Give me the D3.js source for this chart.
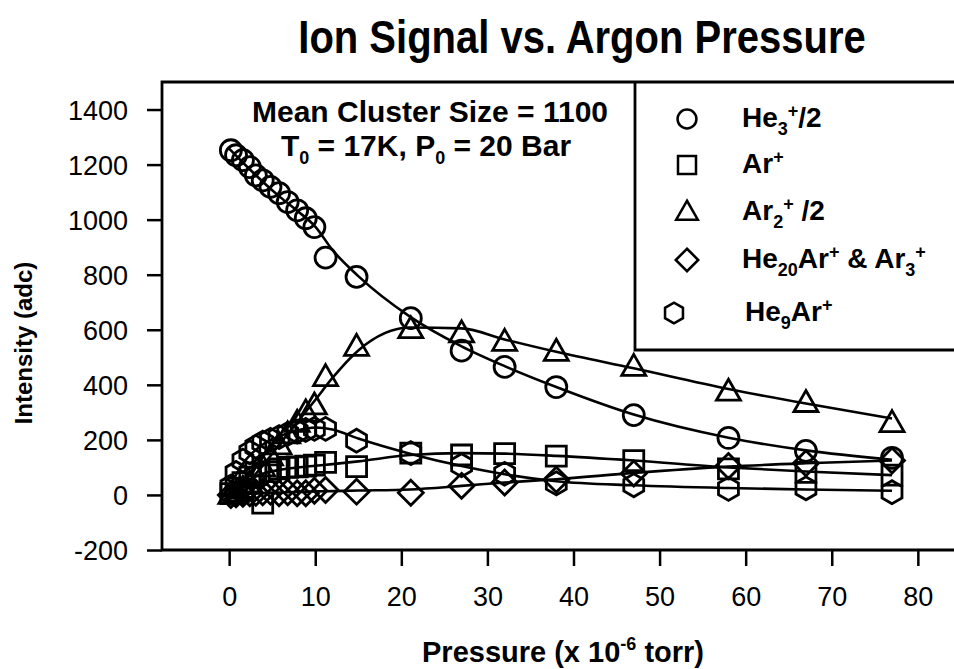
<!DOCTYPE html>
<html>
<head>
<meta charset="utf-8">
<script src="https://cdn.jsdelivr.net/npm/d3@7"></script>
<style>
  body { margin: 0; background: #fff; }
  svg { display: block; }
  text { font-family: "Liberation Sans", Arial, Helvetica, sans-serif; fill: #000; }
</style>
</head>
<body>
<svg id="chart" width="954" height="669"></svg>
<script>
// measured points (pressure in 1e-6 torr, intensity in adc)
const pressure = [0.2, 0.8, 1.6, 2.4, 3.1, 3.9, 4.8, 5.8, 6.8, 7.9, 8.9, 9.9, 11.2, 14.8, 21.1, 27, 32, 38, 47, 58, 67, 77];
const he3 = [1252, 1234, 1216, 1191, 1161, 1143, 1119, 1096, 1064, 1034, 1005, 973, 862, 792, 642, 524, 465, 392, 290, 207, 160, 135];
const arPlus = [5, 25, 45, 65, 80, -30, 85, 95, 100, 102, 105, 108, 118, 103, 152, 145, 150, 141, 125, 95, 82, 72];
const ar2 = [0, 8, 22, 42, 68, 100, 140, 180, 220, 262, 300, 325, 428, 538, 602, 587, 556, 520, 465, 375, 334, 261];
const he20Ar = [0, 2, 4, 6, 8, 10, 12, 6, 10, 6, 6, 15, 18, 12, 8, 33, 45, 55, 78, 105, 115, 125];
const he9Ar = [30, 80, 125, 155, 175, 190, 200, 210, 222, 230, 236, 240, 240, 197, 152, 108, 77, 42, 35, 22, 24, 10];

// fitted curves drawn through the points
const fitPressure = [0, 2, 4, 6, 8, 10, 12, 15, 21, 27, 32, 38, 47, 58, 67, 77];
const fitHe3 = [1258, 1195, 1135, 1080, 1030, 975, 890, 795, 648, 540, 468, 392, 292, 208, 162, 128];
const fitArPlus = [0, 50, 78, 92, 100, 106, 112, 122, 145, 152, 150, 142, 125, 100, 85, 72];
const fitAr2 = [0, 40, 110, 190, 268, 345, 425, 525, 608, 605, 565, 520, 460, 385, 332, 278];
const fitHe20Ar = [0, 4, 7, 9, 11, 13, 14, 16, 20, 33, 45, 57, 80, 103, 115, 125];
const fitHe9Ar = [30, 130, 185, 215, 235, 245, 238, 205, 150, 105, 75, 50, 35, 25, 20, 15];

const xTicks = [0, 10, 20, 30, 40, 50, 60, 70, 80];
const yTicks = [-200, 0, 200, 400, 600, 800, 1000, 1200, 1400];

const svg = d3.select("#chart");

const x = d3.scaleLinear().domain([-7.8, 84.2]).range([162, 954]);
const y = d3.scaleLinear().domain([-200, 1500]).range([550, 82]);

const ink = "#000";
const strokeW = 2.8;

// marker shapes
function shape(kind) {
	return function(cx, cy) {
		const p = d3.path();
		if (kind === "circle") {
			p.moveTo(cx + 10.5, cy);
			p.arc(cx, cy, 10.5, 0, 2 * Math.PI);
		} else if (kind === "square") {
			p.rect(cx - 10, cy - 10, 20, 20);
		} else if (kind === "triangle") {
			p.moveTo(cx, cy - 12.5);
			p.lineTo(cx + 12, cy + 8.5);
			p.lineTo(cx - 12, cy + 8.5);
			p.closePath();
		} else if (kind === "diamond") {
			p.moveTo(cx, cy - 12.5);
			p.lineTo(cx + 12.5, cy);
			p.lineTo(cx, cy + 12.5);
			p.lineTo(cx - 12.5, cy);
			p.closePath();
		} else {
			for (let i = 0; i < 6; i++) {
				const a = Math.PI / 2 + i * Math.PI / 3;
				const px = cx + 11.5 * Math.cos(a), py = cy + 11.5 * Math.sin(a);
				if (i === 0) p.moveTo(px, py); else p.lineTo(px, py);
			}
			p.closePath();
		}
		return p.toString();
	};
}

const series = [
	{ values: he3, fit: fitHe3, kind: "circle" },
	{ values: arPlus, fit: fitArPlus, kind: "square" },
	{ values: ar2, fit: fitAr2, kind: "triangle" },
	{ values: he20Ar, fit: fitHe20Ar, kind: "diamond" },
	{ values: he9Ar, fit: fitHe9Ar, kind: "hexagon" }
];

// title
svg.append("text")
	.attr("transform", "translate(582,53) scale(1,1.15)")
	.attr("text-anchor", "middle")
	.style("font-size", "40px")
	.style("font-weight", "bold")
	.text("Ion Signal vs. Argon Pressure");

// frame lines (right side runs off the page)
svg.append("path")
	.attr("d", "M962,82H162V550H962")
	.attr("fill", "none")
	.attr("stroke", ink)
	.attr("stroke-width", 2.8);

// axes
const yAxis = svg.append("g")
	.attr("transform", "translate(162,0)")
	.call(d3.axisLeft(y).tickValues(yTicks).tickSize(15).tickPadding(19).tickFormat(d => String(d)));
const xAxis = svg.append("g")
	.attr("transform", "translate(0,550)")
	.call(d3.axisBottom(x).tickValues(xTicks).tickSize(16).tickPadding(20).tickFormat(d => String(d)));

[xAxis, yAxis].forEach(function(a) {
	a.select(".domain").remove();
	a.selectAll("line").attr("stroke", ink).attr("stroke-width", 2.5);
	a.selectAll("text")
		.style("font-size", "27px")
		.style("font-family", "'Liberation Sans', Arial, sans-serif")
		.attr("fill", ink);
});
yAxis.selectAll("text").attr("dy", "0.36em");
xAxis.selectAll("text").attr("dy", "0.74em");

// axis titles
svg.append("text")
	.attr("transform", "translate(32,343) rotate(-90)")
	.attr("text-anchor", "middle")
	.style("font-size", "24px")
	.style("font-weight", "bold")
	.text("Intensity (adc)");

const xt = svg.append("text")
	.attr("x", 563)
	.attr("y", 662)
	.attr("text-anchor", "middle")
	.style("font-size", "29px")
	.style("font-weight", "bold");
xt.append("tspan").text("Pressure (x 10");
xt.append("tspan").attr("dy", -12).style("font-size", "18px").text("-6");
xt.append("tspan").attr("dy", 12).text(" torr)");

// annotation
svg.append("text")
	.attr("x", 430).attr("y", 122)
	.attr("text-anchor", "middle")
	.style("font-size", "30px").style("font-weight", "bold")
	.text("Mean Cluster Size = 1100");
const note = svg.append("text")
	.attr("x", 426).attr("y", 156)
	.attr("text-anchor", "middle")
	.style("font-size", "30px").style("font-weight", "bold");
note.append("tspan").text("T");
note.append("tspan").attr("dy", 8).style("font-size", "18px").text("0");
note.append("tspan").attr("dy", -8).text(" = 17K, P");
note.append("tspan").attr("dy", 8).style("font-size", "18px").text("0");
note.append("tspan").attr("dy", -8).text(" = 20 Bar");

// fitted lines
const line = d3.line()
	.x((d, i) => x(fitPressure[i]))
	.y(d => y(d))
	.curve(d3.curveMonotoneX);

svg.append("g").selectAll("path")
	.data(series)
	.enter().append("path")
	.attr("d", d => line(d.fit))
	.attr("fill", "none")
	.attr("stroke", ink)
	.attr("stroke-width", 2.6);

// markers
series.forEach(function(s) {
	const draw = shape(s.kind);
	svg.append("g").selectAll("path")
		.data(s.values)
		.enter().append("path")
		.attr("d", (d, i) => draw(x(pressure[i]), y(d)))
		.attr("fill", "none")
		.attr("stroke", ink)
		.attr("stroke-width", strokeW);
});

// legend box
svg.append("path")
	.attr("d", "M635,82V350H962")
	.attr("fill", "none")
	.attr("stroke", ink)
	.attr("stroke-width", 2.8);

const legendY = [119, 165, 212, 260, 313];
const legendMarkX = [687, 687, 687, 687, 674];
const legend = svg.append("g");
series.forEach(function(s, i) {
	legend.append("path")
		.attr("d", shape(s.kind)(legendMarkX[i], legendY[i]))
		.attr("transform", "translate(" + legendMarkX[i] * 0.1 + "," + legendY[i] * 0.1 + ") scale(0.9)")
		.attr("fill", "none")
		.attr("stroke", ink)
		.attr("stroke-width", strokeW);
});

// legend labels with sub/superscripts
function legendText(i, parts) {
	const t = legend.append("text")
		.attr("x", i === 4 ? 745 : 742)
		.attr("y", legendY[i] + 8)
		.style("font-size", "28px")
		.style("font-weight", "bold");
	let shift = 0;
	parts.forEach(function(p) {
		const target = p[1] === "sub" ? 8 : p[1] === "sup" ? -10 : 0;
		t.append("tspan")
			.attr("dy", target - shift)
			.style("font-size", p[1] ? "18px" : "28px")
			.text(p[0]);
		shift = target;
	});
}
legendText(0, [["He"], ["3", "sub"], ["+", "sup"], ["/2"]]);
legendText(1, [["Ar"], ["+", "sup"]]);
legendText(2, [["Ar"], ["2", "sub"], ["+", "sup"], [" /2"]]);
legendText(3, [["He"], ["20", "sub"], ["Ar"], ["+", "sup"], [" & Ar"], ["3", "sub"], ["+", "sup"]]);
legendText(4, [["He"], ["9", "sub"], ["Ar"], ["+", "sup"]]);
</script>
</body>
</html>
